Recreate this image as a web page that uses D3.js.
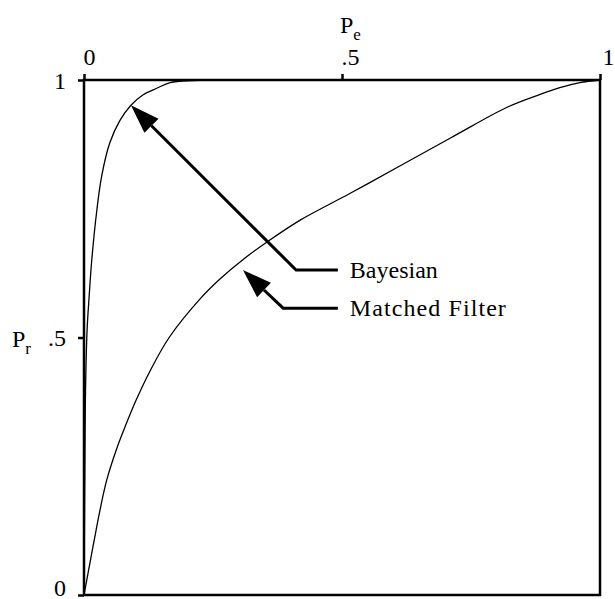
<!DOCTYPE html>
<html>
<head>
<meta charset="utf-8">
<script src="https://cdn.jsdelivr.net/npm/d3@7"></script>
<style>
  html, body { margin: 0; padding: 0; background: #fff; }
  svg text { font-family: "Liberation Serif", "Times New Roman", serif; fill: #000; }
</style>
</head>
<body>
<svg id="chart" width="615" height="599"></svg>
<script>
// ROC curves: probability of recognition (Pr) against probability of error (Pe)
const bayesPe = [0, 0.002, 0.003, 0.006, 0.010, 0.015, 0.025, 0.034, 0.050, 0.070, 0.091, 0.114, 0.141, 0.167, 0.211, 0.244, 1];
const bayesPr = [0, 0.300, 0.400, 0.515, 0.580, 0.650, 0.748, 0.812, 0.878, 0.922, 0.951, 0.971, 0.984, 0.995, 0.999, 1.000, 1];

const matchedPe = [0, 0.012, 0.021, 0.031, 0.044, 0.063, 0.079, 0.100, 0.128, 0.165, 0.225, 0.264, 0.309, 0.354, 0.419, 0.516, 0.612, 0.715, 0.822, 0.884, 0.922, 0.961, 1];
const matchedPr = [0, 0.065, 0.113, 0.165, 0.223, 0.283, 0.325, 0.376, 0.435, 0.500, 0.575, 0.614, 0.652, 0.685, 0.728, 0.780, 0.833, 0.890, 0.948, 0.972, 0.985, 0.995, 1];

const xTicks = [0, 0.5, 1];
const xTickLabels = ["0", ".5", "1"];
const yTicks = [0, 0.5, 1];
const yTickLabels = ["0", ".5", "1"];

// Callouts: arrow tip, elbow and label, all in data units
const callouts = [
  { label: "Bayesian",       tip: [0.091, 0.951], elbow: [0.411, 0.631], end: 0.492, width: null },
  { label: "Matched Filter", tip: [0.308, 0.631], elbow: [0.386, 0.557], end: 0.492, width: 156 }
];

const svg = d3.select("#chart");
const plotL = 84, plotR = 600, plotT = 80, plotB = 595;

const x = d3.scaleLinear().domain([0, 1]).range([plotL, plotR]);
const y = d3.scaleLinear().domain([0, 1]).range([plotB, plotT]);

// Frame
svg.append("rect")
  .attr("x", plotL).attr("y", plotT)
  .attr("width", plotR - plotL).attr("height", plotB - plotT)
  .attr("fill", "none").attr("stroke", "#000").attr("stroke-width", 2.5);

// Top axis (Pe) with outward ticks
const xAxis = d3.axisTop(x).tickValues(xTicks).tickSize(6).tickSizeOuter(0)
  .tickFormat((d, i) => xTickLabels[i]);
const gx = svg.append("g").attr("transform", `translate(0,${plotT})`).call(xAxis);
gx.select(".domain").remove();
gx.selectAll(".tick line").attr("stroke", "#000").attr("stroke-width", 2.5);
gx.selectAll(".tick text")
  .attr("font-family", "Liberation Serif").attr("font-size", 24)
  .attr("y", -15).attr("dy", 0)
  .attr("dx", (d) => d === 0 ? 5 : 8);

// Left axis (Pr) with outward ticks
const yAxis = d3.axisLeft(y).tickValues(yTicks).tickSize(6).tickSizeOuter(0)
  .tickFormat((d, i) => yTickLabels[i]);
const gy = svg.append("g").attr("transform", `translate(${plotL},0)`).call(yAxis);
gy.select(".domain").remove();
gy.selectAll(".tick line").attr("stroke", "#000").attr("stroke-width", 2.5);
gy.selectAll(".tick text")
  .attr("font-family", "Liberation Serif").attr("font-size", 24)
  .attr("x", -18).attr("dy", (d) => d === 0 ? "0em" : "0.35em");

// Axis titles with subscripts
const pe = svg.append("text").attr("x", x(0.5) - 2).attr("y", 33).attr("font-size", 24);
pe.append("tspan").text("P");
pe.append("tspan").attr("font-size", 17).attr("dy", 7).text("e");

const pr = svg.append("text").attr("x", 12).attr("y", y(0.5) + 9).attr("font-size", 24);
pr.append("tspan").text("P");
pr.append("tspan").attr("font-size", 17).attr("dy", 7).text("r");

// Curves
const line = d3.line().x(d => x(d[0])).y(d => y(d[1])).curve(d3.curveCatmullRom.alpha(0.5));
const series = [
  d3.zip(bayesPe, bayesPr),
  d3.zip(matchedPe, matchedPr)
];
svg.selectAll("path.curve").data(series).join("path")
  .attr("class", "curve")
  .attr("d", line)
  .attr("fill", "none").attr("stroke", "#000").attr("stroke-width", 1.3);

// Callout arrows
const headLen = 29, headHalf = 10;
callouts.forEach(c => {
  const tx = x(c.tip[0]), ty = y(c.tip[1]);
  const ex = x(c.elbow[0]), ey = y(c.elbow[1]);
  const endx = x(c.end);
  const ang = Math.atan2(ey - ty, ex - tx);
  const bx = tx + headLen * Math.cos(ang), by = ty + headLen * Math.sin(ang);
  svg.append("path")
    .attr("d", `M${bx},${by}L${ex},${ey}L${endx},${ey}`)
    .attr("fill", "none").attr("stroke", "#000").attr("stroke-width", 3);
  const px = -Math.sin(ang), py = Math.cos(ang);
  svg.append("path")
    .attr("d", `M${tx},${ty}L${bx + headHalf * px},${by + headHalf * py}L${bx - headHalf * px},${by - headHalf * py}Z`)
    .attr("fill", "#000");
  const t = svg.append("text")
    .attr("x", endx + 12).attr("y", ey + 8)
    .attr("font-size", 24)
    .text(c.label);
  if (c.width) t.attr("textLength", c.width).attr("lengthAdjust", "spacing");
});
</script>
</body>
</html>
